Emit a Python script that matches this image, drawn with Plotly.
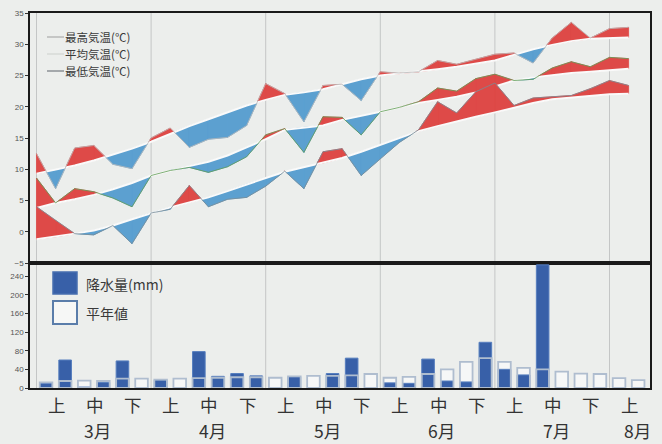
import plotly.graph_objects as go

# ---------------- data (semi-dekad periods, 1 Mar .. 10 Aug) ----------------
period_idx = list(range(32))

tmax_obs = [12.5, 6.9, 13.4, 13.8, 10.8, 10.1, 15.0, 16.6, 13.5, 14.8, 15.1, 17.0,
            23.7, 22.1, 17.6, 23.4, 23.6, 21.0, 25.6, 25.4, 25.6, 27.4, 26.8, 27.6,
            28.4, 28.6, 27.0, 31.0, 33.5, 31.0, 32.5, 32.7]
tmax_nor = [9.3, 9.9, 10.6, 11.4, 12.3, 13.3, 14.4, 15.7, 16.9, 18.0, 19.1, 20.2,
            21.1, 21.9, 22.3, 22.8, 23.6, 24.4, 25.0, 25.3, 25.6, 26.0, 26.4, 26.9,
            27.4, 28.3, 29.2, 29.9, 30.5, 30.9, 31.0, 31.1]

tavg_obs = [8.6, 4.6, 6.9, 6.4, 5.4, 4.0, 9.0, 9.8, 10.3, 9.5, 10.4, 12.0,
            15.5, 16.5, 12.7, 18.4, 18.3, 15.5, 19.2, 19.9, 20.8, 23.0, 22.5, 24.5,
            25.2, 24.2, 24.4, 26.2, 27.2, 26.4, 27.9, 27.7]
tavg_nor = [3.8, 4.6, 5.2, 5.9, 6.8, 7.8, 9.0, 9.8, 10.5, 11.2, 12.2, 13.5,
            14.8, 16.3, 16.7, 17.0, 17.9, 18.5, 19.2, 19.9, 20.6, 21.1, 21.6, 22.3,
            23.3, 24.2, 24.7, 25.1, 25.4, 25.6, 25.9, 26.1]

tmin_obs = [4.0, 1.8, -0.3, -0.5, 1.0, -1.9, 3.0, 3.6, 7.4, 4.0, 5.2, 5.5,
            7.3, 9.7, 6.9, 12.8, 13.3, 9.0, 11.7, 14.3, 16.3, 20.8, 19.0, 22.4,
            23.8, 20.2, 21.4, 21.6, 21.8, 22.9, 24.2, 23.4]
tmin_nor = [-1.2, -0.8, -0.3, 0.2, 1.0, 2.0, 3.0, 3.9, 4.7, 5.5, 6.5, 7.6,
            8.6, 9.6, 10.3, 11.0, 11.8, 12.8, 13.9, 15.0, 16.1, 16.9, 17.7, 18.4,
            19.1, 19.9, 20.6, 21.2, 21.5, 21.8, 22.0, 22.1]

prec_obs = [10, 60, 2, 12, 58, 0, 17, 0, 78, 25, 31, 26,
            0, 24, 0, 31, 64, 0, 11, 10, 62, 15, 13, 98,
            40, 28, 264, 0, 0, 0, 0, 0]
prec_nor = [12, 15, 16, 15, 20, 20, 18, 20, 21, 22, 23, 23,
            22, 25, 26, 26, 27, 30, 22, 24, 30, 40, 56, 64,
            56, 43, 40, 35, 31, 30, 21, 17]

dekad_names = ["上", "中", "下"]
month_names = ["3月", "4月", "5月", "6月", "7月", "8月"]
temp_ticks = [-5, 0, 5, 10, 15, 20, 25, 30, 35]
prec_ticks = [0, 40, 80, 120, 160, 200, 240]
temp_names = ["最高気温(℃)", "平均気温(℃)", "最低気温(℃)"]
prec_names = ["降水量(mm)", "平年値"]

# ---------------- styling ----------------
RED = "rgb(222,74,72)"
BLUE = "rgb(92,160,208)"
BG = "rgb(236,238,236)"
FONT = "Noto Sans CJK JP"
W, H = 662, 444
ML, MR, MT, MB = 30, 12, 13, 56


def px_x(px):
    return (px - ML) / (W - ML - MR)


def px_y(py):
    return (H - MB - py) / (H - MT - MB)


def diff_polys(xs, obs, nor):
    """Polygons between observed and normal, split where they cross."""
    pos = ([], [])
    neg = ([], [])

    def add(target, px, py):
        target[0].extend(px + [px[0], None])
        target[1].extend(py + [py[0], None])

    for k in range(len(xs) - 1):
        x0, x1 = xs[k], xs[k + 1]
        a0, a1 = obs[k], obs[k + 1]
        b0, b1 = nor[k], nor[k + 1]
        d0, d1 = a0 - b0, a1 - b1
        if d0 * d1 < 0:
            t = d0 / (d0 - d1)
            xc = x0 + t * (x1 - x0)
            yc = b0 + t * (b1 - b0)
            add(pos if d0 > 0 else neg, [x0, xc, x0], [a0, yc, b0])
            add(pos if d1 > 0 else neg, [xc, x1, x1], [yc, a1, b1])
        else:
            s = d0 + d1
            if s == 0:
                continue
            add(pos if s > 0 else neg, [x0, x1, x1, x0], [a0, a1, b1, b0])
    return pos, neg


fig = go.Figure()

temp_sets = [
    (tmax_obs, tmax_nor, "rgb(185,185,185)"),
    (tavg_obs, tavg_nor, "rgb(96,156,84)"),
    (tmin_obs, tmin_nor, "rgb(120,140,150)"),
]
for obs, nor, lc in temp_sets:
    pos, neg = diff_polys(period_idx, obs, nor)
    for poly, col in ((pos, RED), (neg, BLUE)):
        fig.add_trace(go.Scatter(x=poly[0], y=poly[1], mode="lines", fill="toself",
                                 fillcolor=col, line=dict(color=col, width=0.8),
                                 hoverinfo="skip", showlegend=False,
                                 xaxis="x", yaxis="y"))
    fig.add_trace(go.Scatter(x=period_idx, y=nor, mode="lines",
                             line=dict(color="rgb(250,250,250)", width=2),
                             hoverinfo="skip", showlegend=False, xaxis="x", yaxis="y"))
    fig.add_trace(go.Scatter(x=period_idx, y=obs, mode="lines",
                             line=dict(color=lc, width=0.8),
                             hoverinfo="skip", showlegend=False, xaxis="x", yaxis="y"))

bar_x = [i + 0.5 for i in period_idx]
BW = 0.66
# normal: pale fill behind, observed bars, then the normal outline on top
fig.add_trace(go.Bar(x=bar_x, y=prec_nor, width=BW,
                     marker=dict(color="rgb(246,247,247)", line=dict(width=0)),
                     showlegend=False, hoverinfo="skip", xaxis="x2", yaxis="y2"))
fig.add_trace(go.Bar(x=bar_x, y=prec_obs, width=BW,
                     marker=dict(color="rgb(56,96,168)",
                                 line=dict(color="rgb(86,126,190)", width=1)),
                     showlegend=False, hoverinfo="skip", xaxis="x2", yaxis="y2"))
fig.add_trace(go.Bar(x=bar_x, y=prec_nor, width=BW,
                     marker=dict(color="rgba(255,255,255,0)",
                                 line=dict(color="rgb(175,189,207)", width=1.8)),
                     showlegend=False, hoverinfo="skip", xaxis="x2", yaxis="y2"))

XR = [-0.34, 32.12]
shapes = []
# month gridlines across both panels
for m in range(6):
    xv = 6 * m
    shapes.append(dict(type="line", xref="x", yref="paper", x0=xv, x1=xv, y0=0, y1=1,
                       line=dict(color="rgb(196,198,198)", width=1), layer="below"))

annotations = []
# temperature legend
leg_rows = [37, 54, 71]
leg_cols = ["rgb(185,185,185)", "rgb(215,218,215)", "rgb(140,145,150)"]
for name, yy, lc in zip(temp_names, leg_rows, leg_cols):
    shapes.append(dict(type="line", xref="paper", yref="paper",
                       x0=px_x(47), x1=px_x(64), y0=px_y(yy), y1=px_y(yy),
                       line=dict(color=lc, width=1.5)))
    annotations.append(dict(xref="paper", yref="paper", x=px_x(64), y=px_y(yy),
                            text=name, showarrow=False, xanchor="left", yanchor="middle",
                            borderpad=0,
                            font=dict(family=FONT, size=11.5, color="#3a3a3a")))

# precipitation legend
shapes.append(dict(type="rect", xref="paper", yref="paper",
                   x0=px_x(53), x1=px_x(77), y0=px_y(294), y1=px_y(272),
                   fillcolor="rgb(56,96,168)", line=dict(color="rgb(70,110,175)", width=1.5)))
shapes.append(dict(type="rect", xref="paper", yref="paper",
                   x0=px_x(53), x1=px_x(77), y0=px_y(324), y1=px_y(301),
                   fillcolor="rgb(246,247,246)", line=dict(color="rgb(90,125,170)", width=2)))
annotations.append(dict(xref="paper", yref="paper", x=px_x(84), y=px_y(284),
                        text=prec_names[0], showarrow=False, xanchor="left", yanchor="middle",
                        font=dict(family=FONT, size=14, color="#3a3a3a")))
annotations.append(dict(xref="paper", yref="paper", x=px_x(84), y=px_y(313),
                        text=prec_names[1], showarrow=False, xanchor="left", yanchor="middle",
                        font=dict(family=FONT, size=14, color="#3a3a3a")))

# dekad labels and month labels under the chart
n = len(period_idx)
for m, mname in enumerate(month_names):
    full = 6 * m + 6 <= n
    for d, dname in enumerate(dekad_names):
        xc = 6 * m + 2 * d + 1
        if xc >= n:
            break
        annotations.append(dict(xref="x2", yref="paper", x=xc, y=px_y(404),
                                text=dname, showarrow=False, xanchor="center",
                                yanchor="middle", xshift=1, borderpad=0,
                                font=dict(family=FONT, size=17.5, color="#333333")))
    xm = 6 * m + 3 if full else n - 1
    annotations.append(dict(xref="x2", yref="paper", x=xm, y=px_y(430.5),
                            text=mname, showarrow=False, xanchor="center", yanchor="middle",
                            xshift=4 if full else 9, borderpad=0,
                            font=dict(family=FONT, size=17.5, color="#333333")))

axis_common = dict(showgrid=False, zeroline=False, showline=True, linecolor="#1a1a1a",
                   mirror=True, automargin=False)
fig.update_layout(
    width=W, height=H,
    margin=dict(l=ML, r=MR, t=MT, b=MB, autoexpand=False),
    paper_bgcolor=BG, plot_bgcolor=BG,
    barmode="overlay",
    showlegend=False,
    xaxis=dict(domain=[0, 1], range=XR, anchor="y", showticklabels=False, ticks="",
               linewidth=2, **axis_common),
    yaxis=dict(domain=[px_y(263), 1], range=[-5, 35], anchor="x", tickvals=temp_ticks,
               ticks="outside", ticklen=3, tickcolor="#333", linewidth=1.5,
               tickfont=dict(family="Liberation Sans", size=8, color="#555"),
               **axis_common),
    xaxis2=dict(domain=[0, 1], range=XR, anchor="y2", showticklabels=False, ticks="",
                linewidth=1.5, **axis_common),
    yaxis2=dict(domain=[0, px_y(263)], range=[0, 268], anchor="x2", tickvals=prec_ticks,
                ticks="outside", ticklen=3, tickcolor="#333", linewidth=1.5,
                tickfont=dict(family="Liberation Sans", size=8, color="#555"),
                **axis_common),
    shapes=shapes,
    annotations=annotations,
)

fig.write_html(
    "out.html",
    config={"displayModeBar": False},
    post_script="document.body.style.margin='0';document.body.style.background='rgb(236,238,236)';",
)
